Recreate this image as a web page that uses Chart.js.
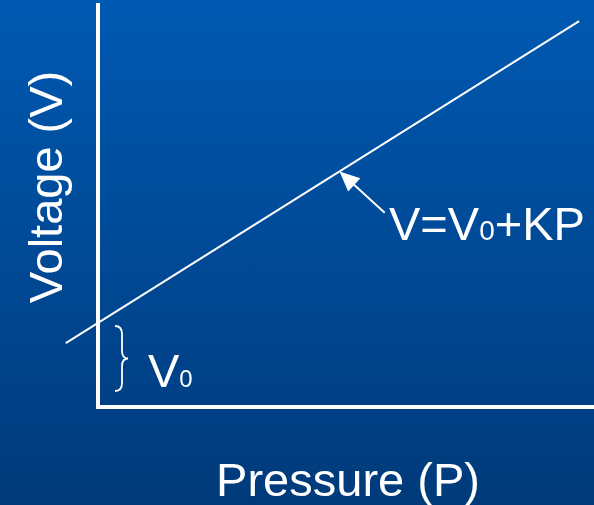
<!DOCTYPE html>
<html>
<head>
<meta charset="utf-8">
<script src="https://cdn.jsdelivr.net/npm/chart.js@4"></script>
<style>
  html, body { margin: 0; padding: 0; }
  body { width: 594px; height: 505px; background: linear-gradient(#0059b2, #003a7a); overflow: hidden; }
  #wrap { width: 594px; height: 505px; position: relative; }
</style>
</head>
<body>
<div id="wrap"><canvas id="chart"></canvas></div>
<script>
// V = V0 + K*P, drawn as a straight line
const pressure = [-0.65, 9.7];
const voltage = [1.59, 9.6];
const v0 = 2.09;
// arrow from the equation label to the line
const arrowTip = { x: 4.87, y: 5.86 };
const arrowTail = { x: 5.78, y: 4.83 };

const xTitle = 'Pressure (P)';
const yTitle = 'Voltage (V)';
const FONT = '"Liberation Sans", Arial, sans-serif';

const overlay = {
  id: 'overlay',
  afterDatasetsDraw(chart) {
    const { ctx, scales: { x, y } } = chart;
    ctx.save();
    ctx.fillStyle = '#fff';
    ctx.strokeStyle = '#fff';

    // arrow
    const tx = x.getPixelForValue(arrowTip.x), ty = y.getPixelForValue(arrowTip.y);
    const sx = x.getPixelForValue(arrowTail.x), sy = y.getPixelForValue(arrowTail.y);
    const ang = Math.atan2(ty - sy, tx - sx);
    const hl = 20, hw = 9;
    ctx.lineWidth = 2;
    ctx.beginPath();
    ctx.moveTo(sx, sy);
    ctx.lineTo(tx - Math.cos(ang) * hl * 0.8, ty - Math.sin(ang) * hl * 0.8);
    ctx.stroke();
    ctx.beginPath();
    ctx.moveTo(tx, ty);
    ctx.lineTo(tx - Math.cos(ang) * hl - Math.sin(ang) * hw, ty - Math.sin(ang) * hl + Math.cos(ang) * hw);
    ctx.lineTo(tx - Math.cos(ang) * hl + Math.sin(ang) * hw, ty - Math.sin(ang) * hl - Math.cos(ang) * hw);
    ctx.closePath();
    ctx.fill();

    // equation label
    ctx.textBaseline = 'alphabetic';
    ctx.textAlign = 'left';
    let px = 389, py = 240;
    ctx.font = '47px ' + FONT;
    ctx.fillText('V=V', px, py);
    px += ctx.measureText('V=V').width;
    ctx.font = '28px ' + FONT;
    ctx.fillText('0', px, py);
    px += ctx.measureText('0').width;
    ctx.font = '47px ' + FONT;
    ctx.fillText('+KP', px, py);

    // brace for V0
    const bTop = y.getPixelForValue(v0) + 3;
    const bBot = y.getPixelForValue(0) - 16;
    const bMid = (bTop + bBot) / 2;
    const bx = 115, bw = 7;
    ctx.lineWidth = 1.8;
    ctx.beginPath();
    ctx.moveTo(bx, bTop);
    ctx.quadraticCurveTo(bx + bw, bTop, bx + bw, bTop + 8);
    ctx.lineTo(bx + bw, bMid - 8);
    ctx.quadraticCurveTo(bx + bw, bMid, bx + bw + 6, bMid);
    ctx.quadraticCurveTo(bx + bw, bMid, bx + bw, bMid + 8);
    ctx.lineTo(bx + bw, bBot - 8);
    ctx.quadraticCurveTo(bx + bw, bBot, bx, bBot);
    ctx.stroke();

    // V0 label
    px = 148; py = 387;
    ctx.font = '47px ' + FONT;
    ctx.fillText('V', px, py);
    px += ctx.measureText('V').width;
    ctx.font = '24px ' + FONT;
    ctx.fillText('0', px, py);

    // axis titles
    ctx.font = '47px ' + FONT;
    ctx.textAlign = 'center';
    ctx.fillText(xTitle, 348, 496);
    ctx.translate(62, 187);
    ctx.rotate(-Math.PI / 2);
    ctx.fillText(yTitle, 0, 0);
    ctx.restore();
  }
};

new Chart(document.getElementById('chart'), {
  type: 'scatter',
  data: {
    datasets: [{
      data: pressure.map((p, i) => ({ x: p, y: voltage[i] })),
      showLine: true,
      borderColor: '#fff',
      borderWidth: 2,
      pointRadius: 0,
      clip: false
    }]
  },
  options: {
    responsive: true,
    maintainAspectRatio: false,
    animation: false,
    layout: { padding: { left: 98, top: 5, right: 0, bottom: 98 } },
    plugins: { legend: { display: false }, tooltip: { enabled: false } },
    scales: {
      x: {
        type: 'linear', min: 0, max: 10,
        grid: { display: false, drawTicks: false },
        ticks: { display: false },
        border: { display: true, color: '#fff', width: 4 }
      },
      y: {
        type: 'linear', min: 0, max: 10,
        grid: { display: false, drawTicks: false },
        ticks: { display: false },
        border: { display: true, color: '#fff', width: 4 }
      }
    }
  },
  plugins: [overlay]
});
</script>
</body>
</html>
